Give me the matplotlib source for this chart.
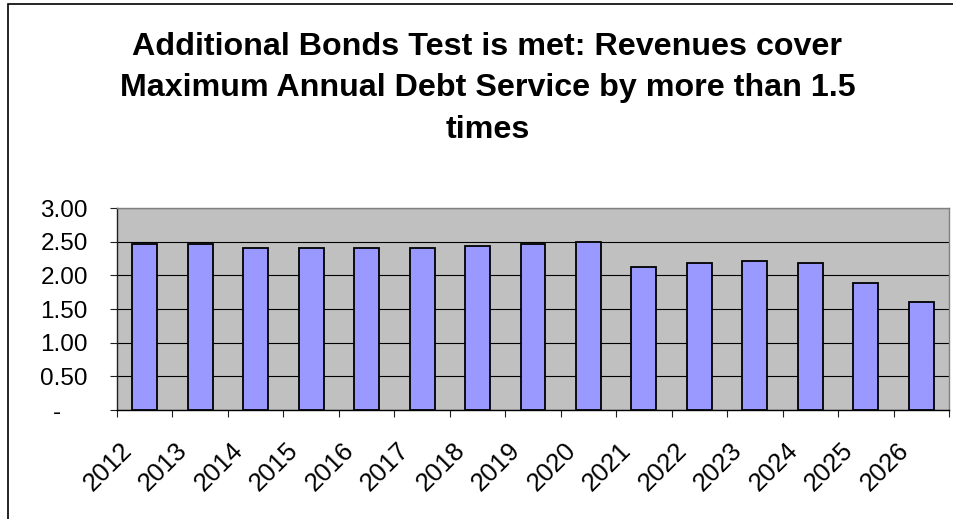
import matplotlib
matplotlib.use("Agg")
import matplotlib.pyplot as plt
from matplotlib.patches import Rectangle
from matplotlib.transforms import ScaledTranslation
import numpy as np

# coverage ratio per fiscal year
years = ["2012", "2013", "2014", "2015", "2016", "2017", "2018", "2019",
         "2020", "2021", "2022", "2023", "2024", "2025", "2026"]
coverage = [2.47, 2.47, 2.41, 2.41, 2.41, 2.41, 2.44, 2.47,
            2.50, 2.12, 2.18, 2.21, 2.18, 1.88, 1.61]
ytick_vals = [0.0, 0.5, 1.0, 1.5, 2.0, 2.5, 3.0]
ytick_labels = ["-", "0.50", "1.00", "1.50", "2.00", "2.50", "3.00"]

plt.rcParams['font.family'] = ['Liberation Sans', 'DejaVu Sans']

fig = plt.figure(figsize=(9.54, 5.19), dpi=100)
ax = fig.add_axes([0.1226, 0.21, 0.8722, 0.3892])

x = np.arange(len(years))
ax.bar(x, coverage, width=0.45, color="#9999FF", edgecolor="black",
       linewidth=1.3, zorder=3)

ax.set_facecolor("#C0C0C0")
ax.set_xlim(-0.5, len(years) - 0.5)
ax.set_ylim(0, 3.0)

# horizontal gridlines
ax.yaxis.grid(True, color="black", linewidth=0.8, zorder=1)
ax.set_axisbelow(True)

for side in ["top", "right"]:
    ax.spines[side].set_color("#808080")
    ax.spines[side].set_linewidth(1.0)
ax.spines["left"].set_color("#202020")
ax.spines["bottom"].set_color("black")
ax.spines["left"].set_linewidth(1.0)
ax.spines["bottom"].set_linewidth(1.0)

# y axis
ax.set_yticks(ytick_vals)
ax.set_yticklabels(ytick_labels, fontsize=17.5)
ax.tick_params(axis="y", direction="out", length=5, width=0.8,
               pad=16, color="#202020")
# zero label sits under the decimals column, like the accounting format
zero_lbl = ax.get_yticklabels()[0]
zero_lbl.set_transform(zero_lbl.get_transform() +
                       ScaledTranslation(-0.27, 0, fig.dpi_scale_trans))

# x axis: labels at centres, tick marks between categories
ax.set_xticks(x)
ax.set_xticklabels(years, fontsize=18.5, rotation=45, ha="right", va="top")
ax.tick_params(axis="x", which="major", length=0, pad=20)
ax.set_xticks(np.arange(len(years) + 1) - 0.5, minor=True)
ax.tick_params(axis="x", which="minor", direction="out", length=5,
               width=0.8, color="#202020")
for lbl in ax.get_xticklabels():
    lbl.set_transform(lbl.get_transform() +
                      ScaledTranslation(-0.08, 0, fig.dpi_scale_trans))

fig.text(0.511, 0.830,
         "Additional Bonds Test is met: Revenues cover\n"
         "Maximum Annual Debt Service by more than 1.5\n"
         "times",
         ha="center", va="center", fontsize=23.2, fontweight="bold",
         linespacing=1.5)

# chart border
fig.patches.append(Rectangle((8 / 954, -0.1), 1.1, 1.1 - 4 / 519,
                             transform=fig.transFigure, fill=False,
                             edgecolor="black", linewidth=1.2))

fig.savefig("out.png", dpi=100)
